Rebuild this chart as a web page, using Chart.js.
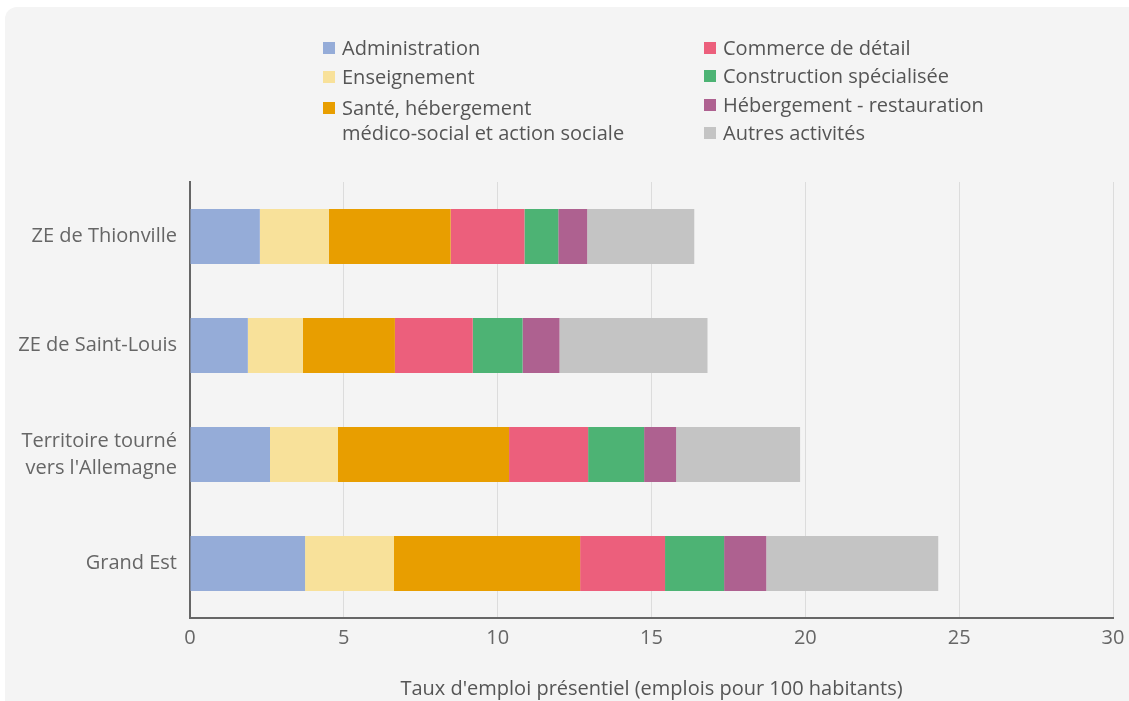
<!DOCTYPE html>
<html>
<head>
<meta charset="utf-8">
<script src="https://cdn.jsdelivr.net/npm/chart.js@4"></script>
<style>
  body { margin: 0; background: #fff; font-family: "Open Sans", sans-serif; }
  .panel { position: absolute; left: 5px; top: 7px; width: 1130px; height: 700px; background: #f4f4f4; border-radius: 12px 0 0 0; }
  canvas { position: absolute; left: 0; top: 0; }
  .leg { position: absolute; font-size: 20px; color: #555; line-height: 25px; white-space: nowrap; }
  .leg i { position: absolute; left: -19px; top: 7px; width: 12px; height: 12px; }
</style>
</head>
<body>
<div class="panel"></div>
<canvas id="chart" width="1129" height="701"></canvas>
<div id="legend"></div>
<script>
const categories = ['ZE de Thionville', 'ZE de Saint-Louis', ['Territoire tourné', "vers l'Allemagne"], 'Grand Est'];

const seriesNames = ['Administration', 'Enseignement', 'Santé, hébergement\nmédico-social et action sociale',
  'Commerce de détail', 'Construction spécialisée', 'Hébergement - restauration', 'Autres activités'];
const colors = ['#95acd8', '#f8e19a', '#e89e00', '#ec5f7c', '#4db374', '#ae6190', '#c4c4c4'];

const administration = [2.27, 1.88, 2.60, 3.74];
const enseignement   = [2.24, 1.79, 2.21, 2.89];
const sante          = [3.96, 2.99, 5.56, 6.05];
const commerce       = [2.40, 2.53, 2.57, 2.76];
const construction   = [1.10, 1.62, 1.82, 1.92];
const hebergement    = [0.94, 1.20, 1.04, 1.37];
const autres         = [3.48, 4.81, 4.03, 5.59];

const xTicks = [0, 5, 10, 15, 20, 25, 30];

const values = [administration, enseignement, sante, commerce, construction, hebergement, autres];

// legend in html, two columns like the original
const legendPos = [
  [342, 35], [342, 64], [342, 95],
  [723, 35], [723, 63], [723, 92], [723, 120]
];
const legend = document.getElementById('legend');
seriesNames.forEach((name, i) => {
  const d = document.createElement('div');
  d.className = 'leg';
  d.style.left = legendPos[i][0] + 'px';
  d.style.top = legendPos[i][1] + 'px';
  d.innerHTML = '<i style="background:' + colors[i] + '"></i>' + name.replace('\n', '<br>');
  legend.appendChild(d);
});

new Chart(document.getElementById('chart').getContext('2d'), {
  type: 'bar',
  data: {
    labels: categories,
    datasets: values.map((v, i) => ({
      label: seriesNames[i],
      data: v,
      backgroundColor: colors[i],
      borderWidth: 0,
      barPercentage: 0.505,
      categoryPercentage: 1,
    })),
  },
  options: {
    indexAxis: 'y',
    responsive: false,
    animation: false,
    layout: { padding: { top: 182, right: 16, left: 0, bottom: 0 } },
    plugins: { legend: { display: false }, tooltip: { enabled: false } },
    scales: {
      x: {
        stacked: true,
        min: 0,
        max: 30,
        afterBuildTicks: s => { s.ticks = xTicks.map(v => ({ value: v })); },
        afterFit: s => { s.height = 83; s.paddingRight = 0; s.paddingLeft = 0; },
        grid: { color: '#dcdcdc', drawTicks: false },
        border: { color: '#666', width: 2 },
        ticks: { color: '#666', padding: 8, font: { family: 'Open Sans', size: 20 } },
        title: {
          display: true,
          text: "Taux d'emploi présentiel (emplois pour 100 habitants)",
          color: '#555',
          font: { family: 'Open Sans', size: 20 },
          padding: { top: 0, bottom: 0 },
        },
      },
      y: {
        stacked: true,
        afterFit: s => { s.width = 190; },
        grid: { display: false, drawTicks: false },
        border: { color: '#666', width: 2 },
        ticks: { color: '#666', padding: 13, font: { family: 'Open Sans', size: 20, lineHeight: 1.35 } },
      },
    },
  },
});
</script>
</body>
</html>
